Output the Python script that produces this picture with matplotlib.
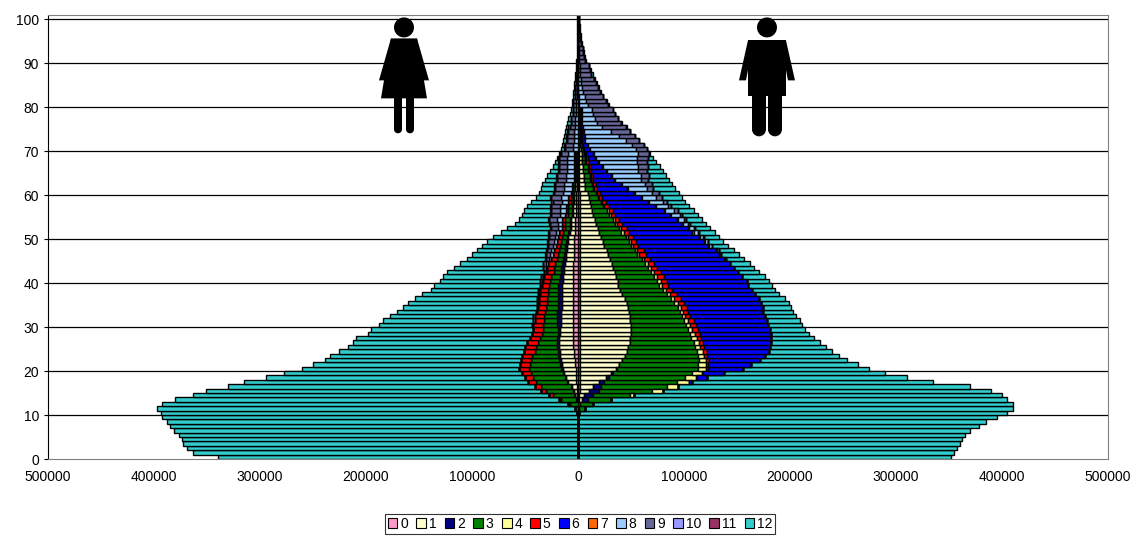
import matplotlib
matplotlib.use("Agg")
import matplotlib.pyplot as plt
from matplotlib.patches import Ellipse, Polygon, FancyBboxPatch, Patch
import numpy as np

plt.rcParams['font.family'] = ['Liberation Sans', 'DejaVu Sans']

ages = list(range(101))
categories = ['0', '1', '2', '3', '4', '5', '6', '7', '8', '9', '10', '11', '12']
colors = ['#FF99CC', '#FFFFCC', '#000080', '#008000', '#FFFF99', '#FF0000', '#0000FF',
          '#FF6600', '#99CCFF', '#666699', '#9999FF', '#993366', '#33CCCC']

# values in thousands of persons
male_total = [352,355,358,360,362,365,370,378,385,395,
              405,410,410,405,400,390,370,335,310,290,
              275,264,254,246,240,234,228,223,218,214,
              211,209,206,203,201,199,195,190,186,183,
              180,176,171,166,162,157,152,147,142,137,
              133,129,125,121,117,113,109,105,101,98,
              95,92,89,86,83,80,77,74,71,68,
              65,61,57,53,49,46,42,38,35,32,
              29,27,24,22,20,18,16,14,12,10,
              8,7,6,5,4,3,3,2,2,1,1]
male_c0 = [0]*13 + [1,1] + [2]*46 + [1]*10 + [0]*30
male_c1 = [0,0,0,0,0,0,0,0,0,0,0,1,2,
           3,5,8,12,18,24,29,
           34,37,40,42,44,45,47,47,48,48,
           48,47,47,46,45,44,42,40,38,36,
           36,34,33,31,30,28,26,25,23,22,
           20,18,17,15,14,12,11,10,9,8,
           7,6,6,5,5,4,4,3,3,3,
           2,2,2,2,2,1,1,1,1,1,
           1,1,1,0,0,0,0,0,0,0,
           0,0,0,0,0,0,0,0,0,0,0]
male_c2 = [0]*13 + [5,8,10,8,5,3,2,1] + [0]*80
male_c3 = [0,0,0,0,0,0,0,0,0,0,
           1,6,12,22,35,50,62,68,72,75,
           76,74,72,69,66,63,60,58,56,54,
           52,51,49,48,47,45,44,42,40,38,
           37,36,34,33,31,30,28,27,25,24,
           23,21,20,18,17,15,14,12,11,9,
           8,7,6,5,5,4,4,3,3,2,
           2,2,1,1,1,1,1,1,1,1] + [0]*21
male_c4 = [0]*14 + [4,10,10,12,10,9,
           8,8,7,6,6,5,5,5,4,4,
           4,4,3,3,3,3,3,3,3,3,
           3,3,3,3,3,2,2,2,2,2,
           2,2,2,2,2,2,2,1,1,1] + [1]*10 + [0]*31
male_c5 = [0]*18 + [1,1,
           2,2,3,3,4,4,4,4,5,5,
           5,5,5,5,6,6,6,6,6,6,
           6,6,6,6,6,6,6,6,5,5,
           5,5,5,5,4,4,4,4,3,3,
           3,3,3,2,2,2,2,2,1,1] + [1]*10 + [0]*21
male_c6 = [0]*17 + [3,10,20,
           33,40,48,54,58,62,64,66,67,68,
           68,69,70,71,72,73,74,74,75,75,
           75,74,73,72,71,70,69,68,66,64,
           62,60,58,56,54,52,48,44,40,36,
           32,28,24,20,17,14,11,9,7,6,
           5,4,3,3,2,2,1,1,1,1] + [0]*21
male_c7 = [0]*45 + [1]*25 + [0]*31
male_c8 = [0]*45 + [1,1,2,2,3,
           3,4,4,5,6,8,9,11,13,14,
           16,18,21,24,27,30,33,36,39,42,
           44,42,38,32,25,18,14,12,10,9,
           8,7,6,5,4,3,3,2,2,2,
           1,1,1,1,0,0,0,0,0,0,0]
male_c9 = [0]*50 + [1,1,1,2,2,2,3,3,4,5,
           6,6,7,7,8,8,9,9,10,10,
           10,11,13,15,18,22,23,22,21,20,
           19,18,17,16,15,14,12,10,9,8,
           6,5,4,4,3,2,2,1,1,1,1]

female_total = [340,363,369,373,374,376,381,385,388,392,
                393,397,392,380,363,351,330,315,294,277,
                260,250,239,234,225,217,212,209,198,195,
                188,184,177,171,165,160,154,147,139,136,
                130,127,124,117,111,105,100,95,91,86,
                80,73,67,59,56,53,51,48,44,40,
                37,35,34,31,29,26,24,22,20,18,
                16,15,14,13,12,11,10,9,8,7,
                6,6,5,5,4,4,3,3,2,2,
                2,1,1,1,1,1,1,1,1,1,1]
female_c0 = [0]*14 + [1,1,1,2,2,2,
             2,3,3,4,4,5,5,5,5,5,
             5,5,5,5,5,5,5,5,5,5,
             5,5,5,5,5,4,4,4,4,4,
             4,3,3,3,3,2,2,2,2,2,
             2,1,1,1,1,1,1,1,1,1] + [0]*31
female_c1 = [0]*13 + [1,2,3,5,7,9,11,
             12,12,13,13,13,13,13,13,12,12,
             11,11,11,11,10,10,10,10,10,10,
             9,9,8,8,7,7,7,6,6,5,
             5,5,4,4,4,3,3,3,2,2,
             2,2,2,1,1,1,1,1,1,1] + [0]*31
female_c2 = [0]*13 + [1]*7 + [2]*10 + [4]*10 + [4,3,3,3,3,3,2,2,2,2] + [1]*10 + [0]*41
female_c3 = [0,0,0,0,0,0,0,0,0,0,
             1,3,8,14,20,25,28,30,30,30,
             30,28,26,24,22,20,18,16,15,14,
             13,12,12,11,11,10,10,9,9,8,
             8,8,7,7,7,6,6,6,5,5,
             5,5,4,4,4,3,3,3,2,2,
             2,2,2,1,1,1,1,1,1,1] + [0]*31
female_c5 = [0]*12 + [1,2,3,5,6,7,8,9,
             10,10,10,10,10,10,10,9,9,9,
             9,9,9,8,8,8,8,8,8,7,
             7,7,6,6,6,5,5,5,4,4,
             4,4,3,3,3,3,2,2,2,2] + [1]*10 + [0]*31
female_c8 = [0]*30 + [1]*10 + [1,1,1,1,2,2,2,2,3,3,
             3,3,4,4,5,5,6,6,6,7,
             7,7,7,7,7,6,6,6,6,5,
             5,5,4,4,4,3,3,3,2,2,
             2,2,1,1,1,1,1,1,0,0] + [0]*11
female_c9 = [0]*35 + [1]*5 + [2,2,2,3,3,3,4,4,4,5,
             5,6,6,7,7,8,8,8,9,9,
             9,9,9,9,9,8,8,8,8,7,
             7,7,6,6,5,5,4,4,3,3,
             3,3,2,2,2,1,1,1,1,1] + [0]*11
female_c11 = [0]*45 + [1]*31 + [0]*25

zeros = [0]*101
male_parts = [male_c0, male_c1, male_c2, male_c3, male_c4, male_c5, male_c6,
              male_c7, male_c8, male_c9, zeros, zeros]
female_parts = [female_c0, female_c1, female_c2, female_c3, zeros, female_c5, zeros,
                zeros, female_c8, female_c9, zeros, female_c11]

fig = plt.figure(figsize=(11.4, 5.39), dpi=100)
ax = fig.add_axes([0.0421, 0.1484, 0.9298, 0.8237])

y = np.array(ages)
for g in range(10, 101, 10):
    ax.axhline(g, color='black', lw=0.9, zorder=0)

ec = dict(edgecolor='black', linewidth=1.0, height=1.0, align='edge', zorder=2)
scale = 1000.0
ax.barh(y, np.array(male_total) * scale, color=colors[12], **ec)
ax.barh(y, -np.array(female_total) * scale, color=colors[12], **ec)
left_m = np.zeros(101)
left_f = np.zeros(101)
for i in range(12):
    vm = np.array(male_parts[i]) * scale
    vf = np.array(female_parts[i]) * scale
    ax.barh(y, vm, left=left_m, color=colors[i], **ec)
    ax.barh(y, -vf, left=-left_f, color=colors[i], **ec)
    left_m += vm
    left_f += vf

ax.set_xlim(-500000, 500000)
ax.set_ylim(0, 101)
ax.set_yticks(range(0, 101, 10))
ax.set_xticks(range(-500000, 500001, 100000))
ax.set_xticklabels([str(abs(v)) for v in range(-500000, 500001, 100000)])
ax.tick_params(labelsize=10, length=3)
ax.tick_params(axis='x', length=0, pad=8)
for s in ax.spines.values():
    s.set_color('#808080')
ax.spines['left'].set_color('black')

# pictograms (pixel-based helpers)
def X(px):
    return (px - 579) * 943.4
def Y(py):
    return (459 - py) / 4.4

def person(cx, female):
    kw = dict(facecolor='black', edgecolor='none', zorder=3)
    ax.add_patch(Ellipse((X(cx), Y(27)), 20 * 943.4, 20 / 4.4, **kw))
    if female:
        body = [(cx - 13, 38), (cx + 13, 38), (cx + 23, 98), (cx - 23, 98)]
        ax.add_patch(Polygon([(X(a), Y(b)) for a, b in body], **kw))
        legs = [(cx - 10, cx - 2), (cx + 2, cx + 10)]
        arms = [[(cx - 13, 38), (cx - 9, 42), (cx - 17, 80), (cx - 25, 80)],
                [(cx + 13, 38), (cx + 9, 42), (cx + 17, 80), (cx + 25, 80)]]
    else:
        body = [(cx - 19, 40), (cx + 19, 40), (cx + 19, 96), (cx - 19, 96)]
        ax.add_patch(Polygon([(X(a), Y(b)) for a, b in body], **kw))
        legs = [(cx - 15, cx - 1), (cx + 1, cx + 15)]
        arms = [[(cx - 19, 40), (cx - 14, 44), (cx - 21, 80), (cx - 28, 80)],
                [(cx + 19, 40), (cx + 14, 44), (cx + 21, 80), (cx + 28, 80)]]
    for a, b in legs:
        ax.add_patch(Polygon([(X(a), Y(94)), (X(b), Y(94)), (X(b), Y(129)), (X(a), Y(129))], **kw))
        ax.add_patch(Ellipse((X((a + b) / 2), Y(129)), (b - a) * 943.4, (b - a) / 4.4, **kw))
    for arm in arms:
        ax.add_patch(Polygon([(X(a), Y(b)) for a, b in arm], **kw))

person(405, True)
person(768, False)

handles = [Patch(facecolor=c, edgecolor='black', linewidth=0.8) for c in colors]
leg = fig.legend(handles, categories, loc='center', bbox_to_anchor=(580 / 1140, 1 - 524 / 539),
                 ncol=13, fontsize=10, handlelength=0.7, handleheight=0.7, handletextpad=0.2,
                 columnspacing=0.6, frameon=True, fancybox=False, borderpad=0.2)
leg.get_frame().set_edgecolor('black')
leg.get_frame().set_linewidth(0.8)

fig.savefig('out.png', dpi=100)
